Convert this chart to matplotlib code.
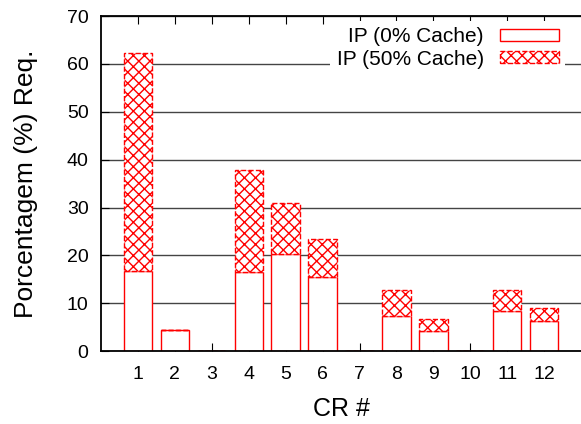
import matplotlib.pyplot as plt
import numpy as np

# CR number on x, percentage of requests on y
cr = np.arange(1, 13)
cache0 = [16.8, 4.4, 0, 16.6, 20.2, 15.5, 0, 7.4, 4.2, 0, 8.4, 6.3]
cache50_total = [62.2, 4.4, 0, 37.8, 31.0, 23.5, 0, 12.7, 6.8, 0, 12.8, 8.9]
cache50 = [t - b for t, b in zip(cache50_total, cache0)]

plt.rcParams['font.family'] = ['Liberation Sans', 'DejaVu Sans']
plt.rcParams['hatch.linewidth'] = 1.0

fig = plt.figure(figsize=(5.81, 4.24), dpi=100)
ax = fig.add_axes([0.174, 0.172, 0.826, 0.79])

width = 0.77
ax.bar(cr, cache0, width, color='white', edgecolor='red', linewidth=1.0,
       label='IP (0% Cache)')
ax.bar(cr, cache50, width, bottom=cache0, color='white', edgecolor='red',
       hatch='xxx', linestyle='--', linewidth=1.0, label='IP (50% Cache)')

ax.set_xlim(0, 13)
ax.set_ylim(0, 70)
ax.set_xticks(cr)
ax.set_yticks(range(0, 71, 10))
ax.set_axisbelow(True)
ax.yaxis.grid(True, color='#444444', linewidth=1.0)

ax.tick_params(axis='x', direction='in', top=True, length=6, labelsize=14, pad=11)
ax.tick_params(axis='y', direction='in', length=6, labelsize=14, pad=9)
for s in ['left', 'bottom', 'top']:
    ax.spines[s].set_linewidth(1.3)
ax.spines['right'].set_visible(False)

ax.set_xlabel('CR #', fontsize=18, labelpad=10)
ax.set_ylabel('Porcentagem (%) Req.', fontsize=19, labelpad=21)

leg = ax.legend(loc='upper right', bbox_to_anchor=(0.967, 0.985), markerfirst=False,
                fontsize=15, handlelength=2.84, handleheight=0.5, labelspacing=0.15,
                borderaxespad=0, borderpad=0.3, handletextpad=0.77,
                framealpha=1.0, fancybox=False)
leg.get_frame().set_edgecolor('none')

fig.savefig('out.png', dpi=100)
